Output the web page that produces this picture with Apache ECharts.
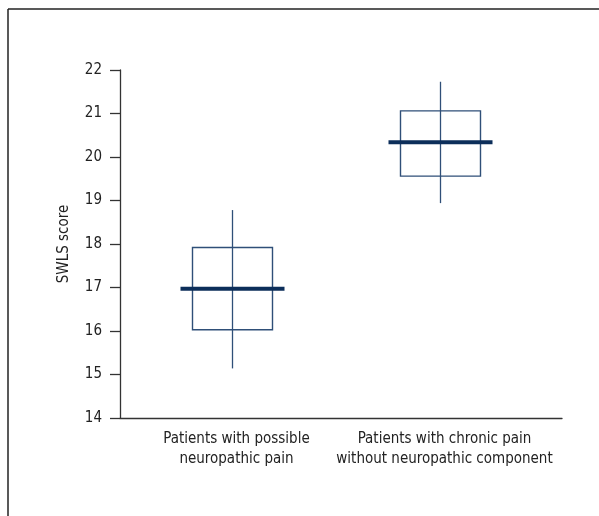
<!DOCTYPE html>
<html>
<head>
<meta charset="utf-8">
<script src="https://cdn.jsdelivr.net/npm/echarts@6/dist/echarts.min.js"></script>
<style>html,body{margin:0;padding:0;background:#fff;}#c{width:599px;height:516px;}</style>
</head>
<body>
<div id="c"></div>
<script>
var categories = ['Patients with possible\nneuropathic pain', 'Patients with chronic pain\nwithout neuropathic component'];
var whiskerLow  = [15.14, 18.94];
var boxLow      = [16.03, 19.56];
var centerVal   = [16.97, 20.34];
var boxHigh     = [17.92, 21.06];
var whiskerHigh = [18.78, 21.73];
var yTicks = [14, 15, 16, 17, 18, 19, 20, 21, 22];

var FONT = "'Liberation Sans Narrow', 'DejaVu Sans Condensed', 'Roboto Condensed', sans-serif";

var chart = echarts.init(document.getElementById('c'), null, {renderer: 'canvas'});
var seriesData = categories.map(function (c, i) {
  return [i, whiskerLow[i], boxLow[i], centerVal[i], boxHigh[i], whiskerHigh[i]];
});

chart.setOption({
  animation: false,
  backgroundColor: '#fff',
  graphic: [
    {type: 'line', shape: {x1: 8, y1: 9, x2: 599, y2: 9}, style: {stroke: '#222', lineWidth: 1.5}, silent: true},
    {type: 'line', shape: {x1: 8, y1: 9, x2: 8, y2: 516}, style: {stroke: '#222', lineWidth: 1.5}, silent: true}
  ],
  grid: [
    {left: 120, right: 37, top: 70, bottom: 98},
    {left: 128.5, width: 416, top: 70, bottom: 98}
  ],
  xAxis: [
    {
      gridIndex: 0, type: 'category', data: categories,
      axisLine: {show: true, lineStyle: {color: '#333', width: 1.3}},
      axisTick: {show: false}, axisLabel: {show: false}, splitLine: {show: false}
    },
    {
      gridIndex: 1, type: 'category', data: categories,
      axisLine: {show: false}, axisTick: {show: false}, splitLine: {show: false},
      axisLabel: {
        show: true, color: '#222', fontFamily: FONT, fontSize: 15, lineHeight: 20,
        margin: 11, interval: 0, padding: [0, 0, 0, 8]
      }
    }
  ],
  yAxis: [
    {
      gridIndex: 0, type: 'value', min: yTicks[0], max: yTicks[yTicks.length - 1], interval: 1,
      name: 'SWLS score', nameLocation: 'middle', nameGap: 48, nameRotate: 90,
      nameTextStyle: {color: '#222', fontFamily: FONT, fontSize: 15},
      axisLine: {show: true, lineStyle: {color: '#333', width: 1.3}},
      axisTick: {show: true, length: 10, lineStyle: {color: '#333', width: 1.3}},
      axisLabel: {color: '#222', fontFamily: FONT, fontSize: 15, margin: 18},
      splitLine: {show: false}
    },
    {
      gridIndex: 1, type: 'value', min: yTicks[0], max: yTicks[yTicks.length - 1], interval: 1,
      show: false
    }
  ],
  series: [{
    type: 'custom',
    xAxisIndex: 1, yAxisIndex: 1,
    data: seriesData,
    encode: {x: 0, y: [1, 2, 3, 4, 5]},
    renderItem: function (params, api) {
      var x = api.value(0);
      var pWL = api.coord([x, api.value(1)]);
      var pBL = api.coord([x, api.value(2)]);
      var pC  = api.coord([x, api.value(3)]);
      var pBH = api.coord([x, api.value(4)]);
      var pWH = api.coord([x, api.value(5)]);
      var cx = pC[0];
      var boxHalf = 40, medHalf = 52;
      return {
        type: 'group',
        children: [
          {type: 'rect', shape: {x: cx - boxHalf, y: pBH[1], width: boxHalf * 2, height: pBL[1] - pBH[1]},
           style: {fill: 'none', stroke: '#2f4f78', lineWidth: 1.4}},
          {type: 'line', shape: {x1: cx, y1: pWH[1], x2: cx, y2: pWL[1]},
           style: {stroke: '#2f4f78', lineWidth: 1.3}},
          {type: 'line', shape: {x1: cx - medHalf, y1: pC[1], x2: cx + medHalf, y2: pC[1]},
           style: {stroke: '#0c2e5a', lineWidth: 4}}
        ]
      };
    }
  }]
});
</script>
</body>
</html>
